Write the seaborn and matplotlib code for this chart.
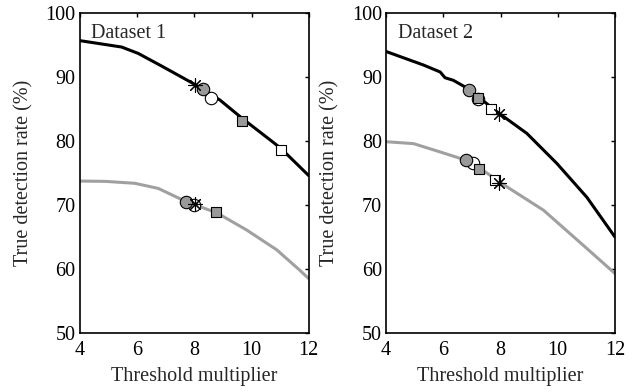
import matplotlib

matplotlib.use("Agg")

import matplotlib.pyplot as plt
import pandas as pd
import seaborn as sns


# Dataset 1 curves (threshold multiplier vs true detection rate, %)
ds1_x = [4.0, 5.46, 6.04, 6.91, 7.96, 8.9, 9.66, 10.76, 11.04, 12.0]
ds1_black = [95.7, 94.7, 93.7, 91.6, 89.0, 86.4, 83.6, 79.8, 78.8, 74.6]
ds1_gray_x = [4.0, 4.9, 5.92, 6.74, 7.73, 8.78, 9.83, 10.88, 11.69, 12.0]
ds1_gray = [73.75, 73.7, 73.4, 72.6, 70.5, 68.8, 66.1, 63.0, 59.8, 58.5]

# Dataset 2 curves
ds2_x = [4.0, 5.3, 5.89, 6.06, 6.35, 6.9, 7.2, 7.67, 7.93, 8.92, 9.97, 11.02, 12.0]
ds2_black = [94.0, 91.9, 90.8, 89.9, 89.5, 88.1, 87.0, 85.3, 84.4, 81.2, 76.5, 71.2, 65.0]
ds2_gray_x = [4.0, 4.96, 5.89, 6.8, 7.05, 7.26, 7.82, 7.96, 9.5, 11.02, 12.0]
ds2_gray = [79.9, 79.6, 78.3, 77.0, 76.4, 75.8, 74.1, 73.6, 69.2, 63.2, 59.3]

# Operating points: (method, x, y)
ds1_points_method = ["white_circle", "gray_circle", "white_square", "gray_square", "star",
                     "white_circle", "gray_circle", "gray_square", "star"]
ds1_points_x = [8.6, 8.29, 11.04, 9.66, 8.02, 8.0, 7.71, 8.76, 8.02]
ds1_points_y = [86.8, 88.1, 78.6, 83.1, 88.75, 70.0, 70.5, 68.9, 70.1]

ds2_points_method = ["white_circle", "gray_circle", "white_square", "gray_square", "star",
                     "white_circle", "gray_circle", "white_square", "gray_square", "star"]
ds2_points_x = [7.2, 6.9, 7.67, 7.2, 7.93, 7.05, 6.8, 7.82, 7.26, 7.96]
ds2_points_y = [86.6, 88.0, 85.0, 86.8, 84.3, 76.5, 77.0, 73.9, 75.6, 73.5]

x_ticks = [4, 6, 8, 10, 12]
y_ticks = [50, 60, 70, 80, 90, 100]

MARKER_STYLES = {
    "white_circle": dict(marker="o", facecolor="white", s=80),
    "gray_circle": dict(marker="o", facecolor="#999999", s=80),
    "white_square": dict(marker="s", facecolor="white", s=60),
    "gray_square": dict(marker="s", facecolor="#999999", s=60),
    "star": dict(marker=(8, 2, 0), facecolor="black", s=100),
}

sns.set_theme(style="white")
plt.rcParams["font.family"] = ["Liberation Serif", "DejaVu Serif"]
plt.rcParams["font.size"] = 14


def draw_panel(ax, title, bx, by, gx, gy, methods, px, py):
    sns.lineplot(x=gx, y=gy, ax=ax, color="#a0a0a0", linewidth=2.2, sort=False)
    sns.lineplot(x=bx, y=by, ax=ax, color="black", linewidth=2.2, sort=False)

    points = pd.DataFrame({"method": methods, "x": px, "y": py})
    for method in ["white_circle", "gray_circle", "white_square", "gray_square", "star"]:
        sub = points[points["method"] == method]
        style = MARKER_STYLES[method]
        if method == "star":
            ax.scatter(sub["x"], sub["y"], marker=style["marker"], s=style["s"],
                       color="black", linewidths=0.8, zorder=5)
        else:
            sns.scatterplot(data=sub, x="x", y="y", ax=ax, marker=style["marker"],
                            s=style["s"], color=style["facecolor"],
                            edgecolor="black", linewidth=0.8, zorder=4)

    ax.set_xlim(4, 12)
    ax.set_ylim(50, 100)
    ax.set_xticks(x_ticks)
    ax.set_yticks(y_ticks)
    ax.set_xlabel("Threshold multiplier", fontsize=14.5, labelpad=5)
    ax.set_ylabel("True detection rate (%)", fontsize=14.5, labelpad=9)
    ax.tick_params(axis="x", pad=6)
    ax.tick_params(axis="y", pad=3)
    ax.tick_params(direction="in", length=3, width=1, top=True, right=True,
                   labelsize=14.5, colors="black")
    for spine in ax.spines.values():
        spine.set_visible(True)
        spine.set_color("black")
        spine.set_linewidth(1.2)
    ax.text(0.05, 0.922, title, transform=ax.transAxes, fontsize=14.5, va="baseline")


fig = plt.figure(figsize=(6.34, 3.92), dpi=100)
ax1 = fig.add_axes([0.126, 0.1505, 0.361, 0.816])
ax2 = fig.add_axes([0.609, 0.1505, 0.361, 0.816])

draw_panel(ax1, "Dataset 1", ds1_x, ds1_black, ds1_gray_x, ds1_gray,
           ds1_points_method, ds1_points_x, ds1_points_y)
draw_panel(ax2, "Dataset 2", ds2_x, ds2_black, ds2_gray_x, ds2_gray,
           ds2_points_method, ds2_points_x, ds2_points_y)

fig.savefig("out.png", dpi=100, facecolor="white")
plt.close(fig)
